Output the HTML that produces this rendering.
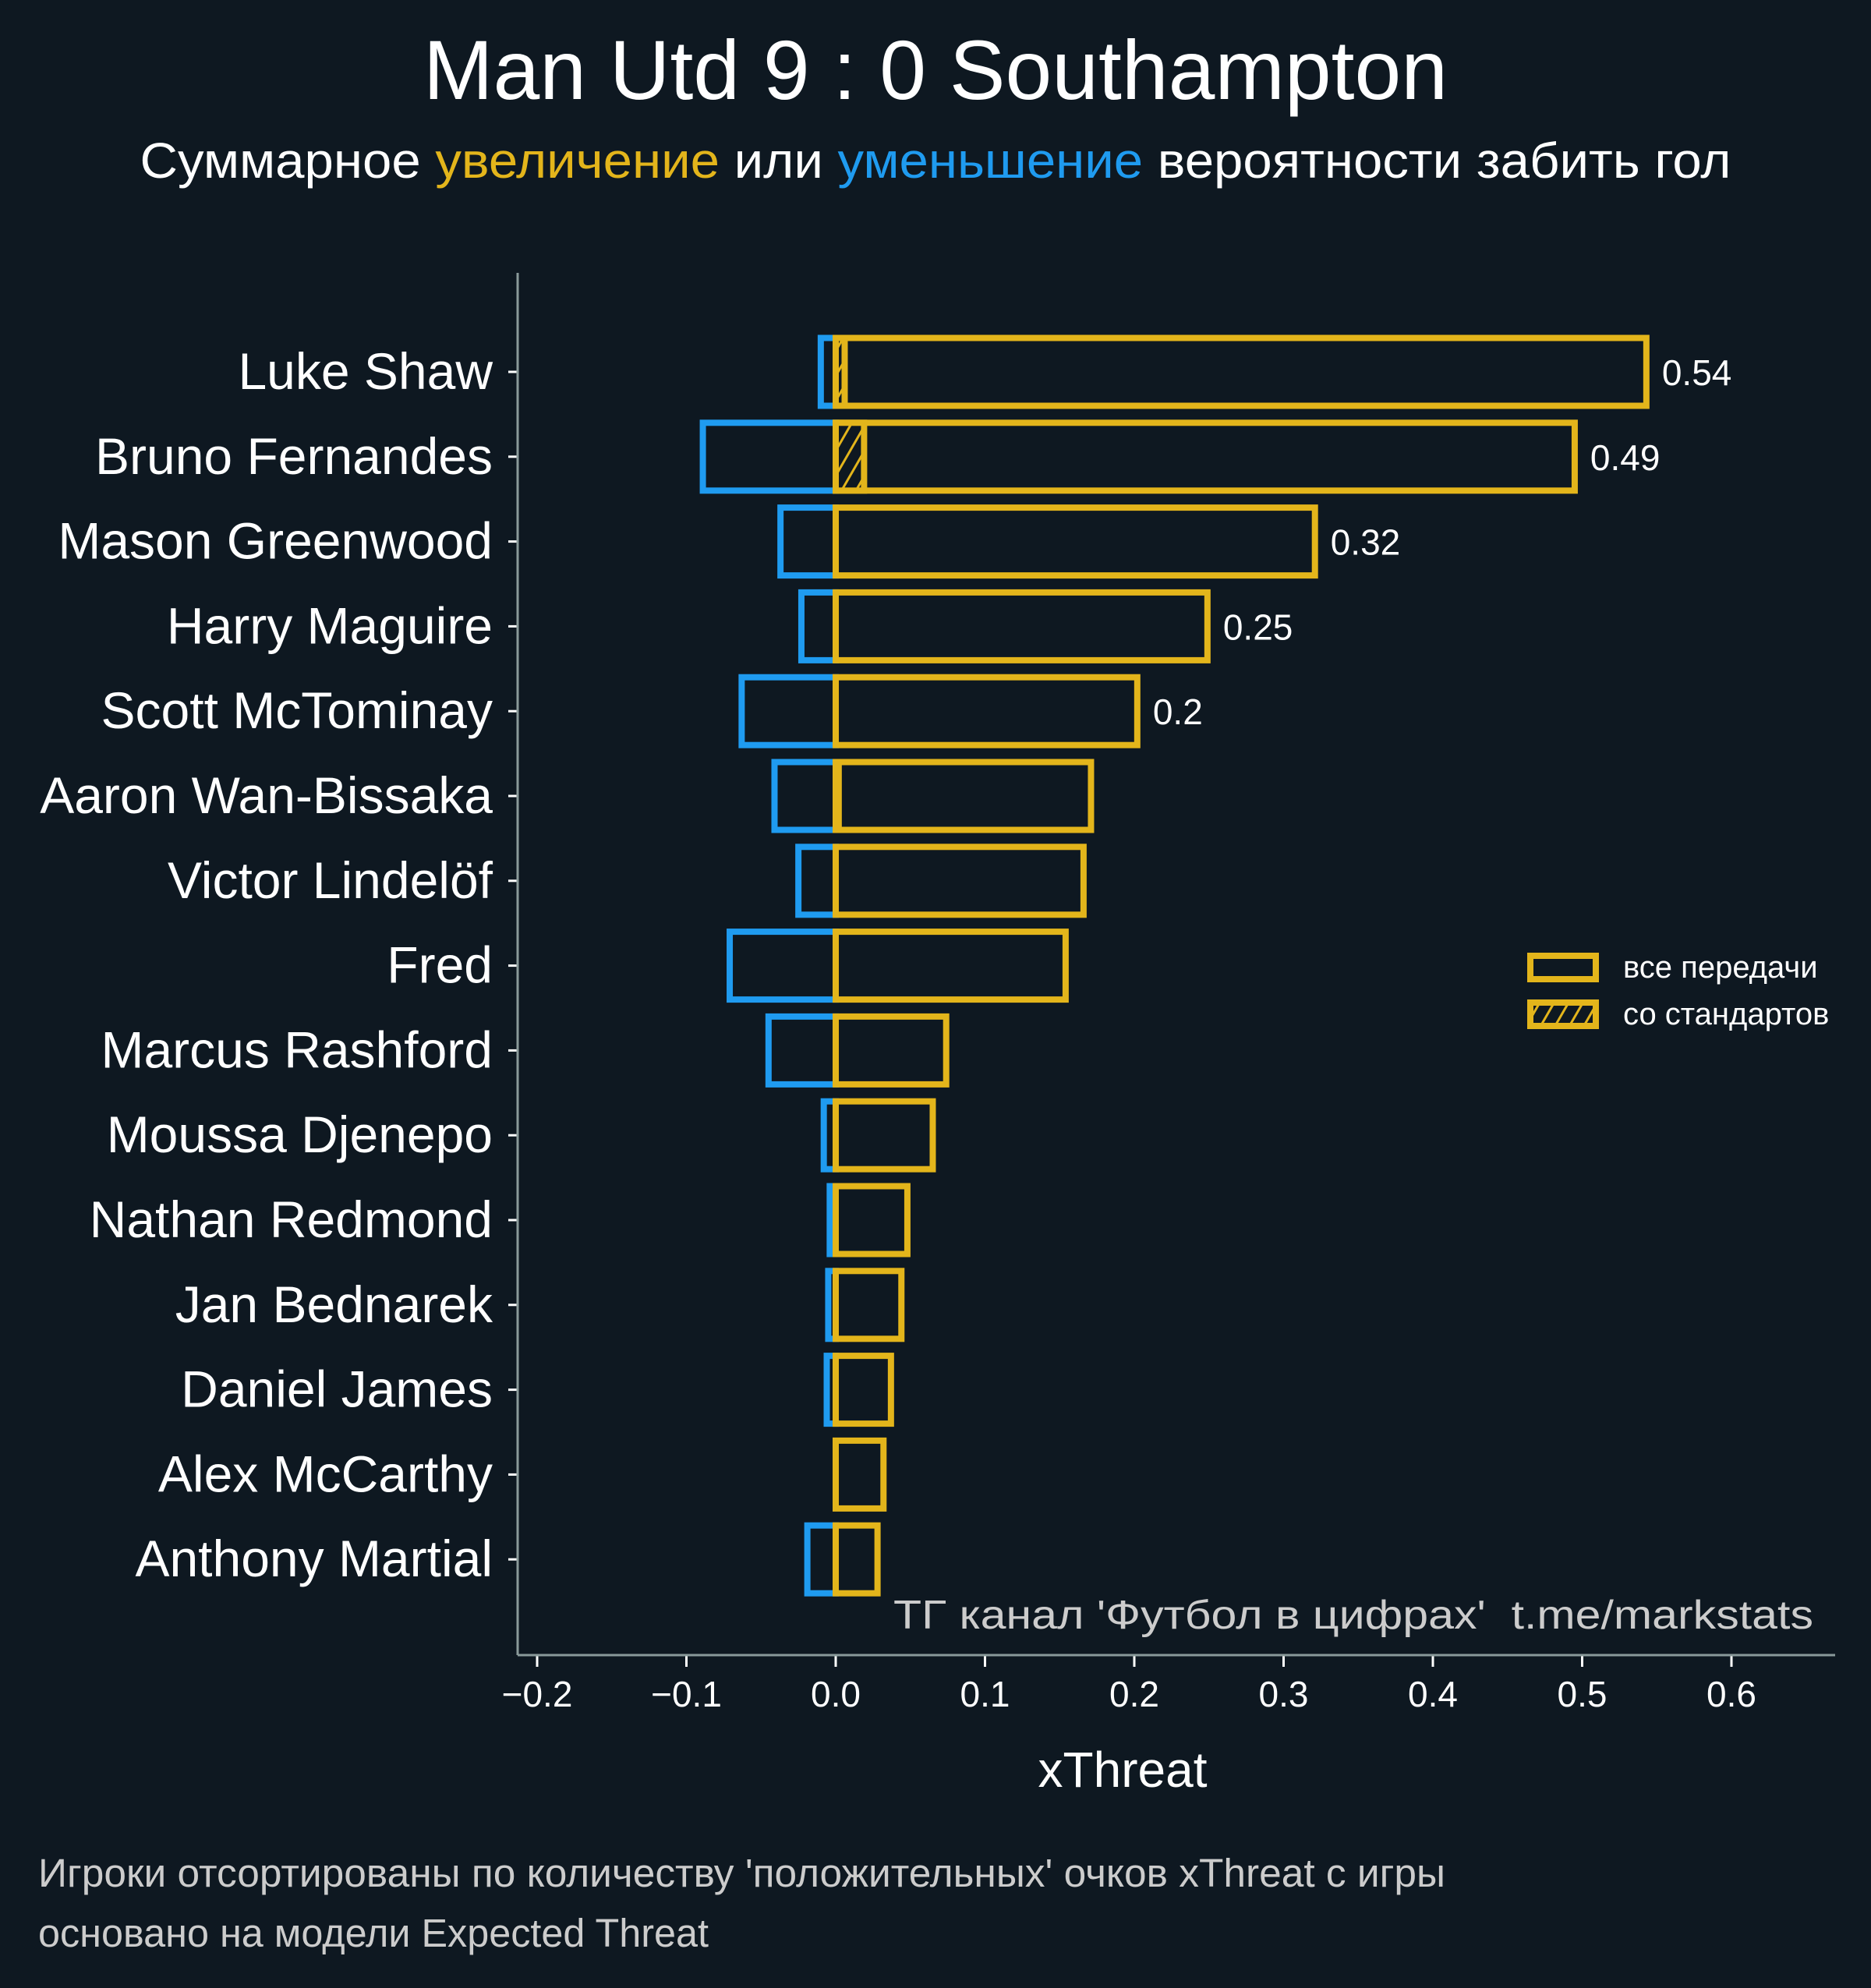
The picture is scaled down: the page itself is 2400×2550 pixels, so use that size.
<!DOCTYPE html>
<html><head><meta charset="utf-8"><style>
html,body{margin:0;padding:0;background:#0e1821;}
svg{display:block;font-family:"Liberation Sans","DejaVu Sans",sans-serif;}
</style></head><body>
<svg id="chart" width="2400" height="2550" viewBox="0 0 2400 2550" xmlns="http://www.w3.org/2000/svg">
<defs>
<pattern id="hatch" patternUnits="userSpaceOnUse" width="16" height="16" patternTransform="rotate(30)">
<rect width="16" height="16" fill="#0e1821"/><line x1="0" y1="0" x2="0" y2="16" stroke="#e3b51b" stroke-width="6"/>
</pattern>
</defs>
<rect width="2400" height="2550" fill="#0e1821"/>
<text x="1200" y="127" text-anchor="middle" font-size="108" fill="#fff" textLength="1314" lengthAdjust="spacingAndGlyphs">Man Utd 9 : 0 Southampton</text>
<text x="1200" y="228" text-anchor="middle" font-size="64" fill="#fff" textLength="2041" lengthAdjust="spacingAndGlyphs">Суммарное <tspan fill="#e3b51b">увеличение</tspan> или <tspan fill="#1f9bf0">уменьшение</tspan> вероятности забить гол</text>
<g id="plot"></g>
<line x1="664" y1="350" x2="664" y2="2123" stroke="#8a9a9a" stroke-width="3"/>
<line x1="664" y1="2123" x2="2354" y2="2123" stroke="#8a9a9a" stroke-width="3"/>
<text x="2326" y="2089" text-anchor="end" font-size="52" fill="#cccccc" textLength="1180" lengthAdjust="spacingAndGlyphs" xml:space="preserve">ТГ канал 'Футбол в цифрах'  t.me/markstats</text>
<text x="1440" y="2292" text-anchor="middle" font-size="64" fill="#fff">xThreat</text>
<g>
<rect x="1963" y="1226" width="84" height="30" fill="#0e1821" stroke="#e3b51b" stroke-width="8"/>
<text x="2082" y="1254" font-size="40" fill="#fff">все передачи</text>
<rect x="1963" y="1286" width="84" height="30" fill="url(#hatch)" stroke="#e3b51b" stroke-width="8"/>
<text x="2082" y="1314" font-size="40" fill="#fff">со стандартов</text>
</g>
<text x="49" y="2420" font-size="51" fill="#cccccc" textLength="1805" lengthAdjust="spacingAndGlyphs">Игроки отсортированы по количеству 'положительных' очков xThreat с игры</text>
<text x="49" y="2497" font-size="51" fill="#cccccc" textLength="860" lengthAdjust="spacingAndGlyphs">основано на модели Expected Threat</text>
</svg>
<script>
const players = ["Luke Shaw","Bruno Fernandes","Mason Greenwood","Harry Maguire","Scott McTominay","Aaron Wan-Bissaka","Victor Lindelöf","Fred","Marcus Rashford","Moussa Djenepo","Nathan Redmond","Jan Bednarek","Daniel James","Alex McCarthy","Anthony Martial"];
const positiveXT = [0.543,0.495,0.321,0.249,0.202,0.171,0.166,0.154,0.074,0.065,0.048,0.044,0.037,0.032,0.028];
const negativeXT = [-0.010,-0.089,-0.037,-0.023,-0.063,-0.041,-0.025,-0.071,-0.045,-0.008,-0.004,-0.005,-0.006,0,-0.019];
const setPieceXT = [0.006,0.019,0,0,0,0.002,0,0,0,0,0,0,0,0,0];
const labelledValues = ["0.54","0.49","0.32","0.25","0.2"];
const xTicks = [-0.2,-0.1,0.0,0.1,0.2,0.3,0.4,0.5,0.6];
const xTickLabels = ["−0.2","−0.1","0.0","0.1","0.2","0.3","0.4","0.5","0.6"];

const NS="http://www.w3.org/2000/svg";
const g=document.getElementById('plot');
const x=v=>1072+v*1915;
const y=i=>477+i*108.8;
const bh=87;
function mk(t,a){const e=document.createElementNS(NS,t);for(const k in a)e.setAttribute(k,a[k]);return e;}
players.forEach((p,i)=>{
  const cy=y(i);
  if(negativeXT[i]<0){
    const r=mk('rect',{x:x(negativeXT[i]),y:cy-bh/2,width:x(0)-x(negativeXT[i]),height:bh,fill:'none',stroke:'#1f9bf0','stroke-width':8});
    
    
    g.appendChild(r);
  }
  const r2=mk('rect',{x:x(0),y:cy-bh/2,width:x(positiveXT[i])-x(0),height:bh,fill:'none',stroke:'#e3b51b','stroke-width':8});
  
  
  g.appendChild(r2);
  if(setPieceXT[i]>0){
    const r3=mk('rect',{x:x(0),y:cy-bh/2,width:x(setPieceXT[i])-x(0),height:bh,fill:'url(#hatch)',stroke:'#e3b51b','stroke-width':8});
    
    
    g.appendChild(r3);
  }
  const tk=mk('line',{x1:652,x2:664,y1:cy,y2:cy,stroke:'#fff','stroke-width':3});
  
  
  g.appendChild(tk);
  const t=mk('text',{x:632,y:cy+22,'text-anchor':'end','font-size':66,fill:'#fff'});
  
  
  t.textContent=p;g.appendChild(t);
  if(i<labelledValues.length){
    const v=mk('text',{x:x(positiveXT[i])+20,y:cy+17,'font-size':46,fill:'#fff'});
    
    
    v.textContent=labelledValues[i];g.appendChild(v);
  }
});
xTicks.forEach((v,i)=>{
  const l=mk('line',{x1:x(v),x2:x(v),y1:2124,y2:2138,stroke:'#fff','stroke-width':3});
  
  
  g.appendChild(l);
  const t=mk('text',{x:x(v),y:2189,'text-anchor':'middle','font-size':46,fill:'#fff'});
  
  
  t.textContent=xTickLabels[i];g.appendChild(t);
});
</script>
</body></html>
